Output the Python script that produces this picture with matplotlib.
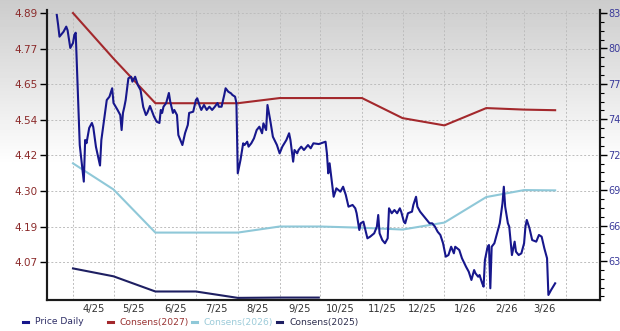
import numpy as np
import pandas as pd
import matplotlib
matplotlib.use("Agg")
import matplotlib.pyplot as plt
import matplotlib.dates as mdates
from matplotlib.lines import Line2D
from matplotlib.ticker import FixedLocator, AutoMinorLocator

# ---- data ----
price_dates = [
    "2025-03-20", "2025-03-21", "2025-03-22", "2025-03-25", "2025-03-27", "2025-03-28", "2025-03-30",
    "2025-04-01", "2025-04-02", "2025-04-03", "2025-04-06", "2025-04-08", "2025-04-09", "2025-04-10",
    "2025-04-11", "2025-04-13", "2025-04-15", "2025-04-16", "2025-04-18", "2025-04-19", "2025-04-21",
    "2025-04-22", "2025-04-24", "2025-04-26", "2025-04-28", "2025-04-30",
    "2025-05-01", "2025-05-04", "2025-05-06", "2025-05-07", "2025-05-08", "2025-05-09", "2025-05-10",
    "2025-05-12", "2025-05-14", "2025-05-15", "2025-05-17", "2025-05-19", "2025-05-21", "2025-05-23",
    "2025-05-25", "2025-05-26", "2025-05-28", "2025-05-30", "2025-05-31",
    "2025-06-02", "2025-06-04", "2025-06-05", "2025-06-06", "2025-06-07", "2025-06-09", "2025-06-11",
    "2025-06-12", "2025-06-14", "2025-06-15", "2025-06-17", "2025-06-18", "2025-06-21", "2025-06-23",
    "2025-06-25", "2025-06-26", "2025-06-29",
    "2025-07-01", "2025-07-02", "2025-07-04", "2025-07-05", "2025-07-07", "2025-07-09", "2025-07-11",
    "2025-07-13", "2025-07-15", "2025-07-17", "2025-07-18", "2025-07-20", "2025-07-22", "2025-07-23",
    "2025-07-25", "2025-07-27", "2025-07-28", "2025-07-30", "2025-07-31",
    "2025-08-01", "2025-08-03", "2025-08-05", "2025-08-06", "2025-08-08", "2025-08-09", "2025-08-11",
    "2025-08-13", "2025-08-15", "2025-08-17", "2025-08-19", "2025-08-20", "2025-08-22", "2025-08-23",
    "2025-08-25", "2025-08-27", "2025-08-30",
    "2025-09-01", "2025-09-03", "2025-09-06", "2025-09-08", "2025-09-09", "2025-09-11", "2025-09-12",
    "2025-09-14", "2025-09-15", "2025-09-17", "2025-09-19", "2025-09-22", "2025-09-24", "2025-09-26",
    "2025-09-30",
    "2025-10-05", "2025-10-06", "2025-10-07", "2025-10-08", "2025-10-11", "2025-10-13", "2025-10-16",
    "2025-10-18", "2025-10-20", "2025-10-22", "2025-10-25", "2025-10-27", "2025-10-28", "2025-10-30",
    "2025-10-31",
    "2025-11-02", "2025-11-05", "2025-11-07", "2025-11-10", "2025-11-12", "2025-11-13", "2025-11-14",
    "2025-11-16", "2025-11-18", "2025-11-20", "2025-11-21", "2025-11-23", "2025-11-25", "2025-11-27",
    "2025-11-29", "2025-11-30",
    "2025-12-02", "2025-12-03", "2025-12-05", "2025-12-08", "2025-12-09", "2025-12-11", "2025-12-12",
    "2025-12-14", "2025-12-16", "2025-12-18", "2025-12-20", "2025-12-21", "2025-12-23", "2025-12-25",
    "2025-12-27", "2025-12-29", "2025-12-31",
    "2026-01-02", "2026-01-04", "2026-01-06", "2026-01-08", "2026-01-09", "2026-01-12", "2026-01-14",
    "2026-01-17", "2026-01-19", "2026-01-21", "2026-01-23", "2026-01-24", "2026-01-26", "2026-01-27",
    "2026-01-29", "2026-01-30", "2026-01-31",
    "2026-02-02", "2026-02-03", "2026-02-04", "2026-02-05", "2026-02-07", "2026-02-09", "2026-02-11",
    "2026-02-13", "2026-02-14", "2026-02-15", "2026-02-17", "2026-02-18", "2026-02-20", "2026-02-22",
    "2026-02-23", "2026-02-25", "2026-02-27",
    "2026-03-01", "2026-03-02", "2026-03-03", "2026-03-05", "2026-03-07", "2026-03-10", "2026-03-12",
    "2026-03-14", "2026-03-16", "2026-03-18", "2026-03-19", "2026-03-21", "2026-03-24",
]
price_daily = [
    82.84, 82.03, 81.09, 81.49, 81.90, 81.60, 80.18,
    80.58, 81.23, 81.41, 72.35, 70.34, 69.40, 72.76,
    72.50, 73.73, 74.13, 73.80, 72.20, 71.70, 70.70,
    72.76, 74.37, 75.98, 76.25, 76.93,
    75.74, 75.18, 74.77, 73.56, 74.94, 75.42, 75.98,
    77.73, 77.86, 77.46, 77.86, 77.19, 76.79, 75.42,
    74.77, 74.94, 75.50, 74.94, 74.64,
    74.23, 74.13, 75.18, 74.94, 75.44, 75.74, 76.55,
    75.85, 74.94, 75.18, 74.77, 73.16, 72.35, 73.32,
    73.97, 74.94, 75.04,
    75.98, 76.12, 75.44, 75.18, 75.58, 75.18, 75.44,
    75.18, 75.44, 75.74, 75.44, 75.44, 76.39, 76.93,
    76.65, 76.52, 76.39, 76.25, 75.74,
    70.07, 71.14, 72.49, 72.35, 72.62, 72.22, 72.49,
    72.89, 73.56, 73.83, 73.30, 74.10, 73.56, 75.58,
    74.37, 73.02, 72.35,
    71.68, 72.22, 72.76, 73.30, 72.76, 71.01, 71.95,
    71.68, 71.95, 72.22, 71.95, 72.35, 72.09, 72.49,
    72.43,
    72.62, 71.68, 70.07, 70.88, 68.18, 68.86, 68.59,
    68.99, 68.32, 67.38, 67.52, 67.25, 66.85, 65.50,
    66.04,
    66.17, 64.83, 64.96, 65.23, 65.77, 66.71, 65.23,
    64.69, 64.43, 64.83, 67.25, 66.85, 67.11, 66.85,
    67.25, 66.98,
    66.17, 66.04, 66.85, 66.98, 67.52, 68.18, 67.38,
    66.98, 66.71, 66.44, 66.17, 66.04, 66.04, 65.77,
    65.36, 65.10, 64.43,
    63.35, 63.48, 64.15, 63.62, 64.15, 63.89, 63.22,
    62.54, 62.14, 61.47, 62.27, 62.01, 61.73, 61.87,
    61.20, 60.93, 63.08,
    64.15, 64.29, 60.80, 64.15, 64.43, 65.23, 66.04,
    67.65, 68.99, 67.38, 66.04, 65.77, 63.48, 64.56,
    63.75, 63.48, 63.62,
    64.43, 65.77, 66.31, 65.64, 64.69, 64.56, 65.10,
    64.96, 64.02, 63.22, 60.26, 60.66, 61.20,
]

cons_dates = ["2025-04-01", "2025-05-01", "2025-06-01", "2025-07-01", "2025-08-01", "2025-09-01",
              "2025-10-01", "2025-11-01", "2025-12-01", "2026-01-01", "2026-02-01", "2026-03-01",
              "2026-03-24"]
cons_2027 = [4.89, 4.74, 4.593, 4.593, 4.593, 4.61, 4.61, 4.61, 4.544, 4.52, 4.577, 4.572, 4.57]
cons_2026 = [4.395, 4.309, 4.167, 4.167, 4.167, 4.187, 4.187, 4.183, 4.177, 4.20, 4.284, 4.307, 4.306]
cons_2025_dates = ["2025-04-01", "2025-05-01", "2025-06-01", "2025-07-01", "2025-08-01",
                   "2025-09-01", "2025-09-30"]
cons_2025 = [4.049, 4.023, 3.973, 3.973, 3.952, 3.953, 3.953]

eps_ticks = [4.07, 4.187, 4.304, 4.421, 4.539, 4.656, 4.773, 4.89]
eps_labels = ["4.07", "4.19", "4.30", "4.42", "4.54", "4.65", "4.77", "4.89"]
price_ticks = [63, 65.857, 68.714, 71.571, 74.429, 77.286, 80.143, 83]
price_labels = ["63", "66", "69", "72", "74", "77", "80", "83"]
month_labels = ["4/25", "5/25", "6/25", "7/25", "8/25", "9/25", "10/25", "11/25", "12/25",
                "1/26", "2/26", "3/26"]
legend_labels = ["Price Daily", "Consens(2027)", "Consens(2026)", "Consens(2025)"]

price_dates = pd.to_datetime(price_dates)
cons_dates = pd.to_datetime(cons_dates)
cons_2025_dates = pd.to_datetime(cons_2025_dates)

# ---- figure ----
W, H = 620, 331
fig = plt.figure(figsize=(W / 100, H / 100), dpi=100)

# grey-to-white background fade
bg = fig.add_axes([0, 0, 1, 1], zorder=-10)
fade = np.clip(0.80 + 0.20 * np.arange(H) / 165.0, 0, 1).reshape(-1, 1)
bg.imshow(fade, cmap="gray", vmin=0, vmax=1, aspect="auto", extent=(0, 1, 0, 1))
bg.axis("off")

ax = fig.add_axes([47 / W, 31 / H, 553 / W, 290 / H])
ax.set_facecolor("none")
ax2 = ax.twinx()

c27, c26, c25, cprice = "#a3282c", "#8fc8d8", "#1e1f62", "#17178c"

ax.plot(cons_dates, cons_2026, color=c26, lw=1.5)
ax.plot(cons_dates, cons_2027, color=c27, lw=1.5)
ax.plot(cons_2025_dates, cons_2025, color=c25, lw=1.5)
ax2.plot(price_dates, price_daily, color=cprice, lw=1.5)

ax.set_xlim(pd.Timestamp("2025-03-12 18:00"), pd.Timestamp("2026-04-26 05:00"))
ax.set_ylim(3.945, 4.90)
ax2.set_ylim(59.855, 83.24)

ax.xaxis.set_major_locator(mdates.MonthLocator())
ax.xaxis.set_major_formatter(plt.NullFormatter())
mids = pd.date_range("2025-04-01", periods=12, freq="MS") + pd.Timedelta(days=15)
ax.xaxis.set_minor_locator(FixedLocator(mdates.date2num(mids)))
ax.xaxis.set_minor_formatter(plt.FixedFormatter(month_labels))
ax.tick_params(axis="x", which="both", length=0, labelsize=7.2, labelcolor="#333333", pad=3)

ax.yaxis.set_major_locator(FixedLocator(eps_ticks))
ax.set_yticklabels(eps_labels)
ax.tick_params(axis="y", length=5, width=1, labelsize=7.5, labelcolor="#8b2a2a", pad=2)

ax2.yaxis.set_major_locator(FixedLocator(price_ticks))
ax2.set_yticklabels(price_labels)
ax2.yaxis.set_minor_locator(AutoMinorLocator(4))
ax2.tick_params(axis="y", which="major", length=5, width=1, labelsize=7, labelcolor="#3a3a9a", pad=1)
ax2.tick_params(axis="y", which="minor", length=3, width=0.8)

ax.grid(True, which="major", color="#bdbdbd", linestyle=(0, (2, 2)), linewidth=0.7)

for a in (ax, ax2):
    a.spines["top"].set_visible(False)
    for s in ("left", "bottom", "right"):
        a.spines[s].set_linewidth(1.5)
        a.spines[s].set_color("#1a1a1a")

# legend row along the bottom, laid out like the original
legend_x = [23, 108, 192, 277]
legend_text_colors = ["#2e2e66", "#993333", "#9ccbd9", "#2e2e4e"]
ly = 1 - 322 / H
for x0, lab, lc, tc in zip(legend_x, legend_labels, (cprice, c27, c26, c25), legend_text_colors):
    fig.add_artist(Line2D([x0 / W, (x0 + 5) / W], [ly, ly], color=lc, lw=2.2,
                          transform=fig.transFigure))
    fig.text((x0 + 12) / W, ly, lab, color=tc, fontsize=6.6, va="center", ha="left")

fig.savefig("out.png", dpi=100)
